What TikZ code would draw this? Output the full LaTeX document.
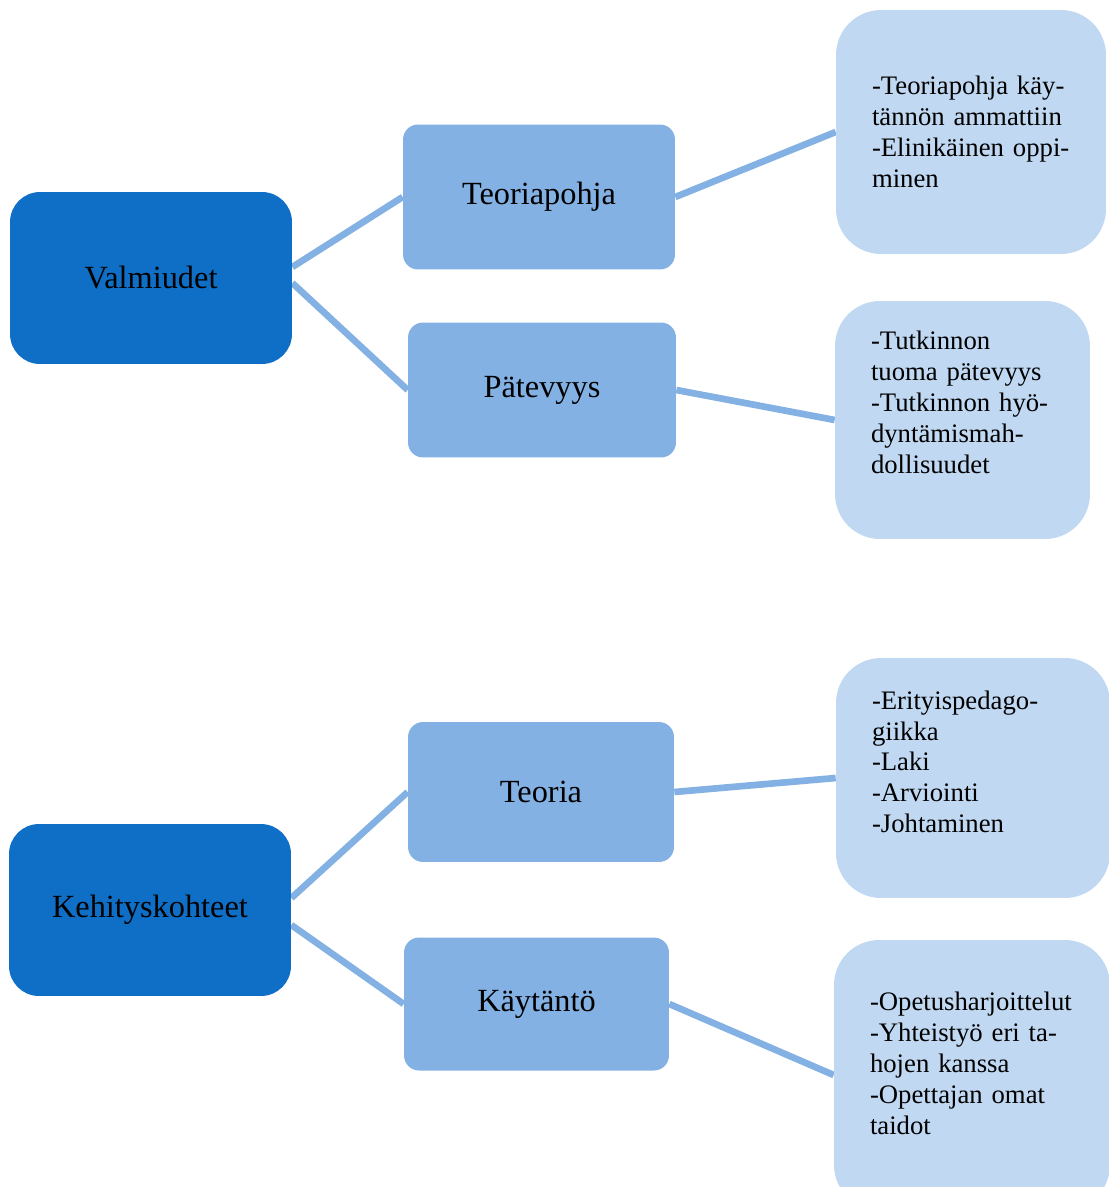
\documentclass[tikz,border=0pt]{standalone}
\usepackage{fontspec}
\setmainfont{Liberation Serif}
\usetikzlibrary{backgrounds}

\definecolor{darkblue}{HTML}{0F6FC6}
\definecolor{midblue}{HTML}{84B1E3}
\definecolor{paleblue}{HTML}{C0D8F1}

\tikzset{
  topbox/.style={rectangle, rounded corners=0.6cm, fill=darkblue, inner sep=0pt,
    minimum width=5.64cm, minimum height=3.44cm, font=\fontsize{18.4}{21}\selectfont},
  midbox/.style={rectangle, rounded corners=0.3cm, fill=midblue, inner sep=0pt,
    font=\fontsize{18.4}{21}\selectfont},
  notebox/.style={rectangle, rounded corners=0.9cm, fill=paleblue, align=left,
    inner xsep=0.72cm, inner ysep=0pt, font=\fontsize{15.2}{17.6}\selectfont},
  link/.style={midblue, line width=3.8pt}
}

\begin{document}
\begin{tikzpicture}[x=0.02cm, y=-0.02cm]
\useasboundingbox (0,0) rectangle (1109,1187);

% upper tree
\draw (151,278)   node (valm)   [topbox] {Valmiudet};
\draw (539,197)   node (tpohja) [midbox, minimum width=5.44cm, minimum height=2.9cm] {Teoriapohja};
\draw (542,390)   node (patev)  [midbox, minimum width=5.36cm, minimum height=2.7cm] {Pätevyys};
\draw (971,132)   node (note1)  [notebox, text width=3.96cm, minimum height=4.88cm]
  {-Teoriapohja käy-\\tännön ammattiin\\-Elinikäinen oppi-\\minen};
\draw (962.5,420) node (note2)  [notebox, text width=3.66cm, minimum height=4.76cm, text depth=91pt]
  {-Tutkinnon\\tuoma pätevyys\\-Tutkinnon hyö-\\dyntämismah-\\dollisuudet};

% lower tree
\draw (150,910)   node (kehi)   [topbox] {Kehityskohteet};
\draw (541,792)   node (teoria) [midbox, minimum width=5.32cm, minimum height=2.8cm] {Teoria};
\draw (536.5,1004) node (kayt)  [midbox, minimum width=5.3cm, minimum height=2.66cm] {Käytäntö};
\draw (973,778)   node (note3)  [notebox, text width=4.04cm, minimum height=4.8cm, text depth=89pt]
  {-Erityispedago-\\giikka\\-Laki\\-Arviointi\\-Johtaminen};
\draw (972,1075)  node (note4)  [notebox, text width=4.08cm, minimum height=5.4cm, text depth=83.5pt]
  {-Opetusharjoittelut\\-Yhteistyö eri ta-\\hojen kanssa\\-Opettajan omat\\taidot};

\begin{scope}[on background layer]
\draw[link] ([yshift=0.22cm]valm.east) -- (tpohja.west);
\draw[link] ([yshift=-0.1cm]valm.east) -- (patev.west);
\draw[link] (tpohja.east) -- (note1.west);
\draw[link] (patev.east) -- (note2.west);
\draw[link] ([yshift=0.24cm]kehi.east) -- (teoria.west);
\draw[link] ([yshift=-0.3cm]kehi.east) -- (kayt.west);
\draw[link] (teoria.east) -- (note3.west);
\draw[link] (kayt.east) -- (note4.west);
\end{scope}
\end{tikzpicture}
\end{document}
